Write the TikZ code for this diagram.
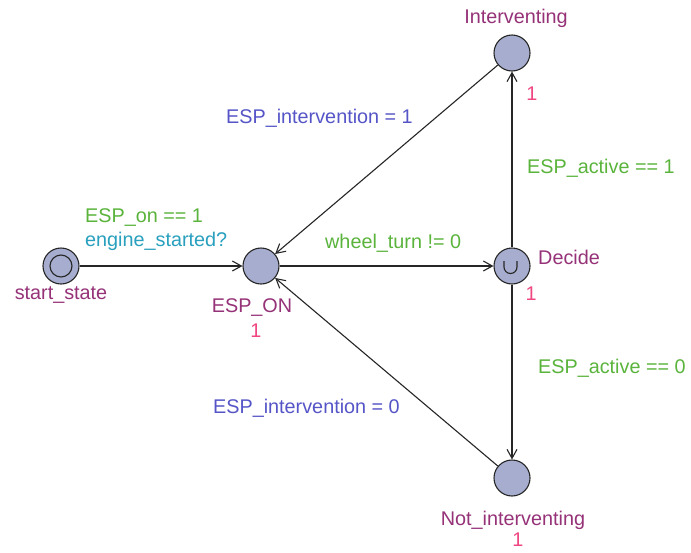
\documentclass[tikz,border=0pt]{standalone}
\usepackage{fontspec}
\setmainfont{Liberation Sans}
\usetikzlibrary{arrows.meta}
\definecolor{locfill}{RGB}{166,173,206}
\definecolor{namec}{RGB}{150,50,120}
\definecolor{invc}{RGB}{240,70,130}
\definecolor{guardc}{RGB}{90,180,60}
\definecolor{syncc}{RGB}{40,160,190}
\definecolor{assignc}{RGB}{85,85,200}
\tikzset{
  loc/.style={circle,draw=black!85,line width=1.1pt,fill=locfill,minimum size=36pt,inner sep=0pt},
  edge/.style={draw=black!85,line width=1.1pt,-{Straight Barb[length=9pt,width=10pt,line width=1.1pt]}},
  lbl/.style={font=\fontsize{19.8}{22}\selectfont,inner sep=0pt},
  lname/.style={lbl,text=namec},
  linv/.style={lbl,text=invc},
  lguard/.style={lbl,text=guardc},
  lsync/.style={lbl,text=syncc},
  lassign/.style={lbl,text=assignc}
}
\begin{document}
\begin{tikzpicture}[x=1pt,y=-1pt]
\useasboundingbox[fill=white] (0,0) rectangle (691,552);
% locations
\node[loc] (start) at (61,266) {};
\node[circle,draw=black!85,line width=1.1pt,minimum size=22pt,inner sep=0pt] (startin) at (61,266) {};
\node[loc] (on) at (261,266) {};
\node[loc] (dec) at (512,266) {};
\node[loc] (int) at (512,53) {};
\node[loc] (not) at (512,478) {};
% committed mark
\draw[black!85,line width=1.1pt] (504,261) -- (504,267) arc[start angle=180,end angle=0,radius=6.5] -- (517,261);
% names and invariants
\node[lname] (n1) at (61,295) {start\_state};
\node[lname] (n2) at (252,308) {ESP\_ON};
\node[linv] (i2) at (256,331) {1};
\node[lname,anchor=west] (n3) at (538,257) {Decide};
\node[linv] (i3) at (531,294) {1};
\node[lname] (n4) at (516,18) {Interventing};
\node[linv] (i4) at (532,94) {1};
\node[lname] (n5) at (513,520) {Not\_interventing};
\node[linv] (i5) at (518,540) {1};
% edges
\draw[edge] (start) -- (on);
\draw[edge] (on) -- (dec);
\draw[edge] (dec) -- (int);
\draw[edge] (dec) -- (not);
\draw[edge] (int) -- (on);
\draw[edge] (not) -- (on);
% edge labels
\node[lguard,anchor=west] (g1) at (85,218) {ESP\_on == 1};
\node[lsync,anchor=west] (s1) at (85,241) {engine\_started?};
\node[lguard,anchor=west] (g2) at (325,243) {wheel\_turn != 0};
\node[lassign,anchor=west] (a1) at (226,118) {ESP\_intervention = 1};
\node[lguard,anchor=west] (g3) at (527,168) {ESP\_active == 1};
\node[lguard,anchor=west] (g4) at (538,368) {ESP\_active == 0};
\node[lassign,anchor=west] (a2) at (213,408) {ESP\_intervention = 0};
\end{tikzpicture}
\end{document}
